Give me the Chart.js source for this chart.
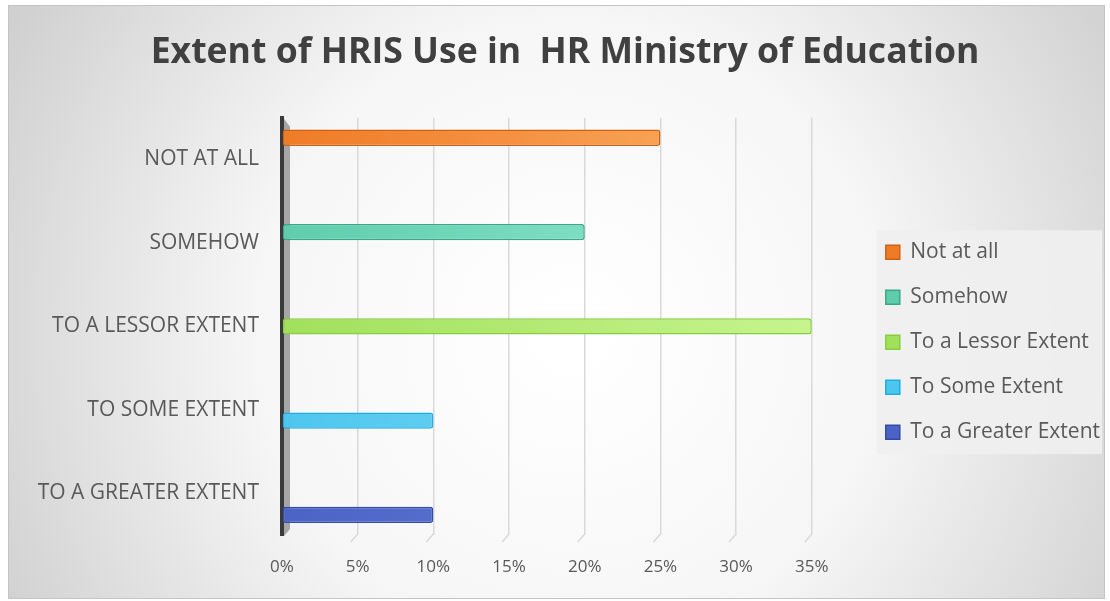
<!DOCTYPE html>
<html>
<head>
<meta charset="utf-8">
<title>Extent of HRIS Use in HR Ministry of Education</title>
<script src="https://cdn.jsdelivr.net/npm/chart.js@4.4.1/dist/chart.umd.min.js"></script>
<style>
  html, body { margin: 0; padding: 0; background: #ffffff; }
  #wrap { position: absolute; left: 0; top: 0; width: 1110px; height: 601px; }
</style>
</head>
<body>
<div id="wrap"><canvas id="chart"></canvas></div>
<script>
// Response categories, listed top to bottom
const categories = ['NOT AT ALL', 'SOMEHOW', 'TO A LESSOR EXTENT', 'TO SOME EXTENT', 'TO A GREATER EXTENT'];
// One series per response, shown in the legend
const seriesNames = ['Not at all', 'Somehow', 'To a Lessor Extent', 'To Some Extent', 'To a Greater Extent'];
// Share of respondents (%) for each response
const seriesValues = [25, 20, 35, 10, 10];
// Value-axis ticks (%)
const xTicks = [0, 5, 10, 15, 20, 25, 30, 35];

// Bar colours: gradient start, gradient end, outline
const barColors = [
  ['#ef7b26', '#fbb066', '#cf6112'],
  ['#5fcdac', '#93ead3', '#38a886'],
  ['#a1e05c', '#c6f48e', '#84cf3a'],
  ['#4dc6ef', '#8adcf8', '#1eaee2'],
  ['#4a63c6', '#6d87da', '#3449aa']
];

const FONT = '"Open Sans", "Noto Sans", sans-serif';
const TEXT = '#595959';

// Each series holds its value in its own category only (clustered bars)
const datasets = seriesNames.map((name, i) => ({
  label: name,
  data: categories.map((_, j) => (j === i ? seriesValues[i] : null)),
  backgroundColor: (ctx) => {
    const area = ctx.chart.chartArea;
    if (!area) return barColors[i][0];
    const g = ctx.chart.ctx.createLinearGradient(area.left, 0, area.right, 0);
    g.addColorStop(0, barColors[i][0]);
    g.addColorStop(1, barColors[i][1]);
    return g;
  },
  borderColor: barColors[i][2],
  borderWidth: 1.5,
  borderRadius: 3,
  borderSkipped: false,
  categoryPercentage: 0.65,
  barPercentage: 1.5
}));

// Empty layout box that keeps some air between the plot and the legend
const legendGap = {
  id: 'legendGap',
  beforeInit(chart) {
    const box = {
      position: 'right', weight: 500, fullSize: false,
      options: { stackWeight: 1 },
      left: 0, top: 0, right: 0, bottom: 0, width: 0, height: 0,
      isHorizontal() { return false; },
      update(maxWidth, maxHeight) { this.width = 50; this.height = maxHeight; },
      draw() {}
    };
    if (Chart.layouts && Chart.layouts.addBox) {
      Chart.layouts.addBox(chart, box);
    } else {
      box._layers = () => [{ z: 0, draw() {} }];
      chart.boxes.push(box);
    }
  }
};

// Soft radial backdrop, frame, legend panel and the 3D axis wall/floor hints
const decor = {
  id: 'decor',
  beforeDraw(chart) {
    const { ctx, width, height } = chart;
    ctx.save();
    ctx.fillStyle = '#ffffff';
    ctx.fillRect(0, 0, width, height);
    const x0 = 8, y0 = 5, w = width - 13, h = height - 7;
    const g = ctx.createRadialGradient(w * 0.52, h * 0.56, 20, w * 0.52, h * 0.56, w * 0.62);
    g.addColorStop(0, '#ffffff');
    g.addColorStop(0.45, '#f6f6f6');
    g.addColorStop(1, '#cbcbcb');
    ctx.fillStyle = g;
    ctx.fillRect(x0, y0, w, h);
    ctx.strokeStyle = '#c4c4c4';
    ctx.lineWidth = 1;
    ctx.strokeRect(x0 + 0.5, y0 + 0.5, w - 1, h - 1);

    const lg = chart.legend;
    if (lg && lg.legendHitBoxes && lg.legendHitBoxes.length) {
      const hb = lg.legendHitBoxes;
      const first = hb[0], last = hb[hb.length - 1];
      const top = first.top + first.height / 2 - 22;
      const bottom = last.top + last.height / 2 + 22;
      ctx.fillStyle = 'rgba(240,240,240,0.9)';
      ctx.fillRect(first.left - 9, top, (x0 + w - 3) - (first.left - 9), bottom - top);
    }
    ctx.restore();
  },
  beforeDatasetsDraw(chart) {
    const { ctx, chartArea } = chart;
    const xs = chart.scales.x;
    const x = xs.getPixelForValue(0);
    ctx.save();
    // shaded wall beside the category axis line
    ctx.fillStyle = '#a6a6a6';
    ctx.beginPath();
    ctx.moveTo(x + 2, chartArea.top + 1);
    ctx.lineTo(x + 8, chartArea.top + 9);
    ctx.lineTo(x + 8, chartArea.bottom - 6);
    ctx.lineTo(x + 2, chartArea.bottom + 1);
    ctx.closePath();
    ctx.fill();
    // floor edges of the vertical gridlines
    ctx.strokeStyle = '#d9d9d9';
    ctx.lineWidth = 1.5;
    xs.ticks.forEach((t) => {
      if (t.value === 0) return;
      const px = xs.getPixelForValue(t.value);
      ctx.beginPath();
      ctx.moveTo(px, chartArea.bottom - 1);
      ctx.lineTo(px - 7, chartArea.bottom + 7);
      ctx.stroke();
    });
    ctx.restore();
  }
};

new Chart(document.getElementById('chart'), {
  type: 'bar',
  data: { labels: categories, datasets },
  plugins: [legendGap, decor],
  options: {
    indexAxis: 'y',
    responsive: true,
    maintainAspectRatio: false,
    animation: false,
    layout: { padding: { left: 20, right: 0, top: 12, bottom: 0 } },
    scales: {
      x: {
        min: xTicks[0],
        max: xTicks[xTicks.length - 1],
        afterBuildTicks(scale) { scale.ticks = xTicks.map(v => ({ value: v })); },
        afterFit(scale) { scale.height = 66; },
        grid: { color: '#d9d9d9', lineWidth: 1.5, drawTicks: false },
        border: { display: false },
        ticks: {
          color: TEXT,
          font: { family: FONT, size: 17 },
          padding: 22,
          callback: (v) => v + '%'
        }
      },
      y: {
        afterFit(scale) { scale.width = 262; },
        grid: { display: false },
        border: { display: true, color: '#3a3a3a', width: 4 },
        ticks: {
          color: TEXT,
          font: { family: FONT, size: 21 },
          padding: 15
        }
      }
    },
    plugins: {
      title: {
        display: true,
        text: 'Extent of HRIS Use in  HR Ministry of Education',
        color: '#404040',
        font: { family: FONT, size: 35.6, weight: 'bold' },
        padding: { top: 19, bottom: 44 }
      },
      legend: {
        position: 'right',
        maxWidth: 280,
        title: { display: true, text: '', font: { size: 12 }, padding: { top: 57, bottom: 0 } },
        labels: {
          color: TEXT,
          font: { family: FONT, size: 21 },
          boxWidth: 14,
          boxHeight: 14,
          padding: 24,
          generateLabels(chart) {
            return chart.data.datasets.map((ds, i) => ({
              text: ds.label,
              fillStyle: barColors[i][0],
              strokeStyle: barColors[i][2],
              lineWidth: 1.5,
              fontColor: TEXT,
              datasetIndex: i,
              hidden: false
            }));
          }
        }
      },
      tooltip: { enabled: false }
    }
  }
});
</script>
</body>
</html>
